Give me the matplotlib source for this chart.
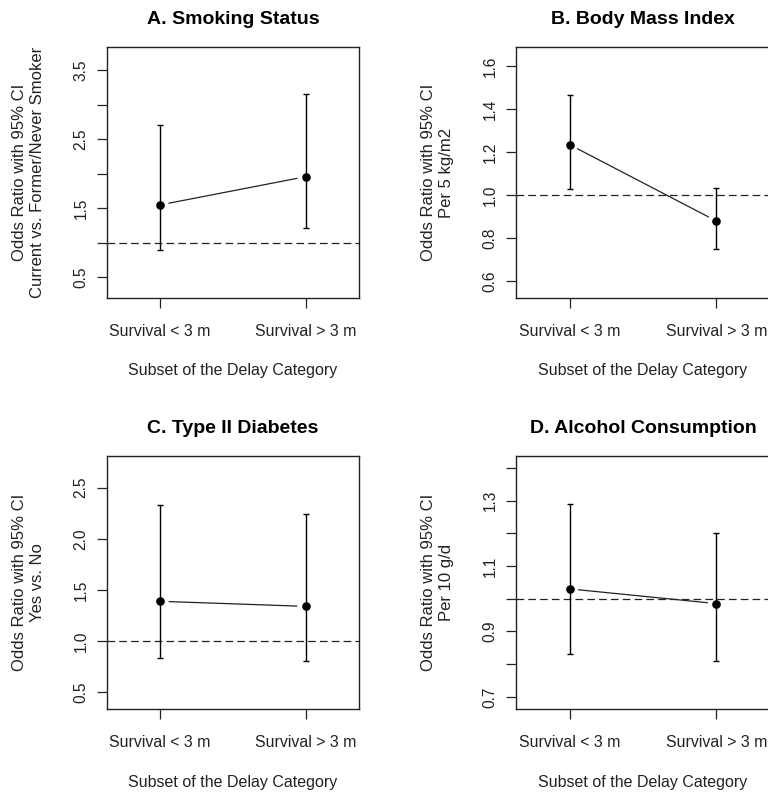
import matplotlib
matplotlib.use("Agg")
import matplotlib.pyplot as plt
import numpy as np

plt.rcParams['font.family'] = ['Liberation Sans', 'DejaVu Sans']
plt.rcParams['lines.scale_dashes'] = False

categories = ["Survival < 3 m", "Survival > 3 m"]
xlabel = "Subset of the Delay Category"

titles = ["A. Smoking Status", "B. Body Mass Index", "C. Type II Diabetes", "D. Alcohol Consumption"]
ylabels = ["Odds Ratio with 95% CI\nCurrent vs. Former/Never Smoker",
           "Odds Ratio with 95% CI\nPer 5 kg/m2",
           "Odds Ratio with 95% CI\nYes vs. No",
           "Odds Ratio with 95% CI\nPer 10 g/d"]

or_smoking = [1.55, 1.96]
lo_smoking = [0.89, 1.21]
hi_smoking = [2.71, 3.16]

or_bmi = [1.235, 0.88]
lo_bmi = [1.03, 0.75]
hi_bmi = [1.465, 1.035]

or_diab = [1.39, 1.34]
lo_diab = [0.84, 0.81]
hi_diab = [2.33, 2.24]

or_alc = [1.03, 0.985]
lo_alc = [0.83, 0.81]
hi_alc = [1.29, 1.20]

yticks_smoking = [0.5, 1.0, 1.5, 2.0, 2.5, 3.0, 3.5]
ytlab_smoking = ["0.5", "", "1.5", "", "2.5", "", "3.5"]
yticks_bmi = [0.6, 0.8, 1.0, 1.2, 1.4, 1.6]
ytlab_bmi = ["0.6", "0.8", "1.0", "1.2", "1.4", "1.6"]
yticks_diab = [0.5, 1.0, 1.5, 2.0, 2.5]
ytlab_diab = ["0.5", "1.0", "1.5", "2.0", "2.5"]
yticks_alc = [0.7, 0.8, 0.9, 1.0, 1.1, 1.2, 1.3, 1.4]
ytlab_alc = ["0.7", "", "0.9", "", "1.1", "", "1.3", ""]

ylims = [(0.2, 3.84), (0.523, 1.688), (0.337, 2.81), (0.663, 1.436)]

panels = [
    (or_smoking, lo_smoking, hi_smoking, yticks_smoking, ytlab_smoking),
    (or_bmi, lo_bmi, hi_bmi, yticks_bmi, ytlab_bmi),
    (or_diab, lo_diab, hi_diab, yticks_diab, ytlab_diab),
    (or_alc, lo_alc, hi_alc, yticks_alc, ytlab_alc),
]

W, H = 768, 792
fig = plt.figure(figsize=(W / 100, H / 100), dpi=100)

# box positions in pixels: (left, top, right, bottom)
boxes = [(107, 47, 359, 298), (516, 47, 770, 298),
         (107, 456, 359, 709), (516, 456, 770, 709)]

txtcol = "#222222"
for i, (box, (orv, lo, hi, yt, ytl)) in enumerate(zip(boxes, panels)):
    l, t, r, b = box
    ax = fig.add_axes([l / W, 1 - b / H, (r - l) / W, (b - t) / H])
    x = np.arange(1, len(categories) + 1)
    ax.axhline(1.0, color="#222222", lw=0.9, dashes=(5.5, 3))
    yerr = [np.array(orv) - np.array(lo), np.array(hi) - np.array(orv)]
    ax.errorbar(x, orv, yerr=yerr, fmt='o', color='black', ms=5.2,
                elinewidth=1.0, capsize=2.2, capthick=1.0, zorder=3)
    ax.annotate('', xy=(x[1], orv[1]), xytext=(x[0], orv[0]),
                arrowprops=dict(arrowstyle='-', color='#222222', lw=0.9,
                                shrinkA=6.5, shrinkB=6.5))
    ax.set_xlim(0.636, 2.364)
    ax.set_ylim(*ylims[i])
    ax.set_xticks(x)
    ax.set_xticklabels(categories)
    ax.set_yticks(yt)
    ax.set_yticklabels(ytl, rotation=90, va='center')
    ax.tick_params(axis='both', direction='out', length=7.2, width=0.9,
                   color='#222222', labelcolor=txtcol)
    ax.tick_params(axis='x', pad=11.5, labelsize=11.4)
    ax.tick_params(axis='y', pad=6, labelsize=11.2)
    for s in ax.spines.values():
        s.set_color('#222222')
        s.set_linewidth(1.0)
    bw, bh = (r - l), (b - t)
    ax.text(0.5, -73 / bh, xlabel, transform=ax.transAxes, ha='center',
            va='center', fontsize=11.5, color=txtcol)
    ax.text(-78.5 / bw, 0.5, ylabels[i], transform=ax.transAxes, ha='center',
            va='center', rotation=90, fontsize=12, color=txtcol,
            multialignment='center', linespacing=1.3)
    ax.text(0.5, 1 + 28 / bh, titles[i], transform=ax.transAxes, ha='center',
            va='center', fontsize=14, fontweight='bold', color='black')

fig.savefig("out.png", dpi=100)
